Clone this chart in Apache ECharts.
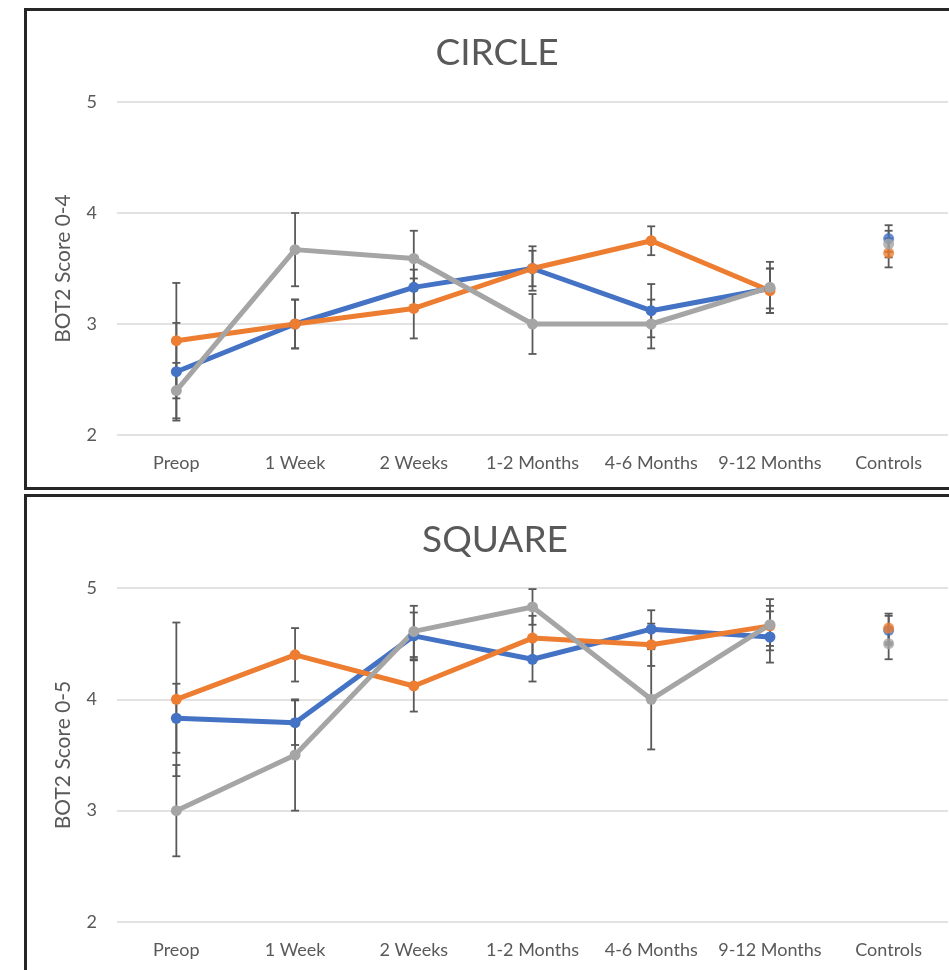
<!DOCTYPE html>
<html>
<head>
<meta charset="utf-8">
<script src="https://cdn.jsdelivr.net/npm/echarts@6/dist/echarts.min.js"></script>
<style>
  html, body { margin: 0; padding: 0; background: #fff; overflow: hidden; }
  #chart { width: 949px; height: 970px; }
</style>
</head>
<body>
<div id="chart"></div>
<script>
const categories = ['Preop', '1 Week', '2 Weeks', '1-2 Months', '4-6 Months', '9-12 Months', 'Controls'];
const yTicks = [2, 3, 4, 5];

// CIRCLE (last value = Controls)
const circleBlue = [2.57, 3.00, 3.33, 3.50, 3.12, 3.32, 3.77];
const circleOrange = [2.85, 3.00, 3.14, 3.50, 3.75, 3.30, 3.64];
const circleGray = [2.40, 3.67, 3.59, 3.00, 3.00, 3.33, 3.72];
const circleBlueErr = [0.44, 0.22, 0.16, 0.16, 0.24, 0.18, 0.12];
const circleOrangeErr = [0.52, 0.22, 0.27, 0.20, 0.13, 0.20, 0.13];
const circleGrayErr = [0.25, 0.33, 0.25, 0.27, 0.22, 0.23, 0.12];

// SQUARE
const squareBlue = [3.83, 3.79, 4.57, 4.36, 4.63, 4.56, 4.62];
const squareOrange = [4.00, 4.40, 4.12, 4.55, 4.49, 4.66, 4.64];
const squareGray = [3.00, 3.50, 4.61, 4.83, 4.00, 4.67, 4.50];
const squareBlueErr = [0.31, 0.20, 0.21, 0.20, 0.17, 0.23, 0.13];
const squareOrangeErr = [0.69, 0.24, 0.23, 0.20, 0.19, 0.18, 0.13];
const squareGrayErr = [0.41, 0.50, 0.23, 0.16, 0.45, 0.23, 0.14];

const colors = ['#4472C4', '#ED7D31', '#A5A5A5'];
const font = 'Lato, "Open Sans", sans-serif';
const last = categories.length - 1;

const errorSeries = (idx, values, errs) => ({
  type: 'custom',
  xAxisIndex: idx,
  yAxisIndex: idx,
  z: 1,
  silent: true,
  data: values.map((v, i) => [i, v - errs[i], v + errs[i]]),
  renderItem: (params, api) => {
    const lo = api.coord([api.value(0), api.value(1)]);
    const hi = api.coord([api.value(0), api.value(2)]);
    const st = { stroke: '#595959', lineWidth: 1.8 };
    const w = 4;
    return {
      type: 'group',
      children: [
        { type: 'line', shape: { x1: lo[0], y1: lo[1], x2: hi[0], y2: hi[1] }, style: st },
        { type: 'line', shape: { x1: lo[0] - w, y1: lo[1], x2: lo[0] + w, y2: lo[1] }, style: st },
        { type: 'line', shape: { x1: hi[0] - w, y1: hi[1], x2: hi[0] + w, y2: hi[1] }, style: st },
      ],
    };
  },
});

const lineSeries = (idx, values, color) => [
  {
    type: 'line',
    xAxisIndex: idx,
    yAxisIndex: idx,
    z: 2,
    data: values.map((v, i) => (i === last ? '-' : v)),
    symbol: 'circle',
    symbolSize: 11,
    lineStyle: { color, width: 5 },
    itemStyle: { color },
  },
  {
    type: 'scatter',
    xAxisIndex: idx,
    yAxisIndex: idx,
    z: 2,
    data: values.map((v, i) => (i === last ? v : '-')),
    symbolSize: 11,
    itemStyle: { color },
  },
];

const xAxis = (idx) => ({
  type: 'category',
  gridIndex: idx,
  data: categories,
  boundaryGap: true,
  axisLine: { show: false },
  axisTick: { show: false },
  axisLabel: { color: '#595959', fontSize: 18, fontFamily: font, margin: 19, interval: 0 },
});

const yAxis = (idx, name) => ({
  type: 'value',
  gridIndex: idx,
  min: yTicks[0],
  max: yTicks[yTicks.length - 1],
  interval: 1,
  name,
  nameLocation: 'middle',
  nameRotate: 90,
  nameGap: 43,
  nameTextStyle: { color: '#595959', fontSize: 21, fontFamily: font },
  axisLabel: { color: '#595959', fontSize: 18, fontFamily: font, margin: 20 },
  splitLine: { lineStyle: { color: '#d9d9d9', width: 1.5 } },
});

const chart = echarts.init(document.getElementById('chart'));
chart.setOption({
  animation: false,
  title: [
    { text: 'CIRCLE', left: 492, top: 30, textAlign: 'center',
      textStyle: { color: '#595959', fontSize: 37, fontWeight: 'normal', fontFamily: font } },
    { text: 'SQUARE', left: 490, top: 517, textAlign: 'center',
      textStyle: { color: '#595959', fontSize: 37, fontWeight: 'normal', fontFamily: font } },
  ],
  graphic: [
    { type: 'rect', shape: { x: 25.5, y: 9.5, width: 1000, height: 479 },
      style: { fill: 'none', stroke: '#262626', lineWidth: 3 }, z: 100 },
    { type: 'rect', shape: { x: 25.5, y: 495.5, width: 1000, height: 500 },
      style: { fill: 'none', stroke: '#262626', lineWidth: 3 }, z: 100 },
  ],
  grid: [
    { left: 117, right: 1, top: 102, height: 333 },
    { left: 117, right: 1, top: 588, height: 334 },
  ],
  xAxis: [xAxis(0), xAxis(1)],
  yAxis: [yAxis(0, 'BOT2 Score 0-4'), yAxis(1, 'BOT2 Score 0-5')],
  series: [
    errorSeries(0, circleBlue, circleBlueErr),
    errorSeries(0, circleOrange, circleOrangeErr),
    errorSeries(0, circleGray, circleGrayErr),
    ...lineSeries(0, circleBlue, colors[0]),
    ...lineSeries(0, circleOrange, colors[1]),
    ...lineSeries(0, circleGray, colors[2]),
    errorSeries(1, squareBlue, squareBlueErr),
    errorSeries(1, squareOrange, squareOrangeErr),
    errorSeries(1, squareGray, squareGrayErr),
    ...lineSeries(1, squareBlue, colors[0]),
    ...lineSeries(1, squareOrange, colors[1]),
    ...lineSeries(1, squareGray, colors[2]),
  ],
});
</script>
</body>
</html>
